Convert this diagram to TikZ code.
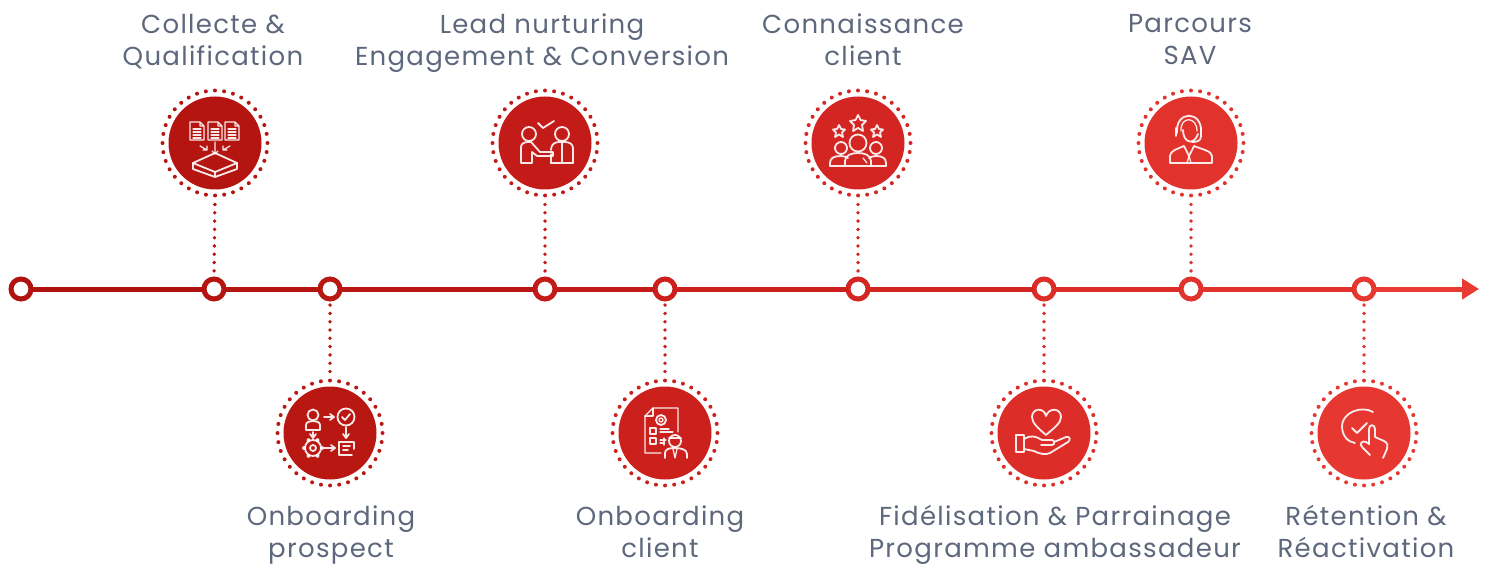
\documentclass[tikz,border=0pt]{standalone}
\usepackage{fontspec}
\setmainfont[LetterSpace=5]{Poppins}
\usetikzlibrary{arrows.meta}
\definecolor{ink}{HTML}{5E687C}
\definecolor{c0}{HTML}{B01210}
\definecolor{c1}{HTML}{B51511}
\definecolor{c2}{HTML}{B91712}
\definecolor{c3}{HTML}{C31B17}
\definecolor{c4}{HTML}{CB201C}
\definecolor{c5}{HTML}{D32521}
\definecolor{c6}{HTML}{DD2D28}
\definecolor{c7}{HTML}{E1322C}
\definecolor{c8}{HTML}{E63830}
\definecolor{c9}{HTML}{E93B32}
\tikzset{
  every picture/.style={x=1pt,y=-1pt},
  label text/.style={text=ink,font=\fontsize{26}{32}\selectfont,align=center,inner sep=0pt,
    execute at begin node={\rule{0pt}{20pt}},execute at end node={\rule[-7pt]{0pt}{7pt}}},
  disc/.style={circle,fill=#1,minimum size=93pt,inner sep=0pt,outer sep=0pt},
  halo/.style={circle,draw=#1,line width=4pt,line cap=round,dash pattern=on 0pt off 9.163pt,minimum size=105pt,inner sep=0pt,outer sep=0pt},
  stem/.style={draw=#1,line width=3.8pt,line cap=round,dash pattern=on 0pt off 8.3pt,shorten <=9pt,shorten >=6pt},
  ring/.style={circle,draw=#1,fill=white,line width=5pt,minimum size=20pt,inner sep=0pt,outer sep=0pt},
  axis/.style={draw=#1,line width=5pt},
  icon/.style={draw=white,line width=1.8pt,line join=round,line cap=round,opacity=.9},
  thin icon/.style={icon,line width=1.3pt},
}
\begin{document}
\begin{tikzpicture}
\useasboundingbox (0,0) rectangle (1489,564);

% axis nodes
\node[ring=c0] (r0) at (21,289) {};
\node[ring=c1] (r1) at (214,289) {};
\node[ring=c2] (r2) at (330,289) {};
\node[ring=c3] (r3) at (545,289) {};
\node[ring=c4] (r4) at (665,289) {};
\node[ring=c5] (r5) at (858,289) {};
\node[ring=c6] (r6) at (1044,289) {};
\node[ring=c7] (r7) at (1191,289) {};
\node[ring=c8] (r8) at (1364,289) {};
\coordinate (end) at (1479,289);

\draw[axis=c0] (r0) -- (r1);
\draw[axis=c1] (r1) -- (r2);
\draw[axis=c2] (r2) -- (r3);
\draw[axis=c3] (r3) -- (r4);
\draw[axis=c4] (r4) -- (r5);
\draw[axis=c5] (r5) -- (r6);
\draw[axis=c6] (r6) -- (r7);
\draw[axis=c7] (r7) -- (r8);
\draw[axis=c9,-{Triangle[length=17pt,width=20pt]}] (r8) -- (end);

% discs
\node[disc=c1] (d1) at (215,143) {};
\node[disc=c2] (d2) at (330,433) {};
\node[disc=c3] (d3) at (545,143) {};
\node[disc=c4] (d4) at (665,433) {};
\node[disc=c5] (d5) at (858,143) {};
\node[disc=c6] (d6) at (1044,433) {};
\node[disc=c7] (d7) at (1191,143) {};
\node[disc=c8] (d8) at (1364,433) {};

\node[halo=c1] (h1) at (d1) {};
\node[halo=c2] (h2) at (d2) {};
\node[halo=c3] (h3) at (d3) {};
\node[halo=c4] (h4) at (d4) {};
\node[halo=c5] (h5) at (d5) {};
\node[halo=c6] (h6) at (d6) {};
\node[halo=c7] (h7) at (d7) {};
\node[halo=c8] (h8) at (d8) {};

\draw[stem=c1] (h1.south) -- (r1.north);
\draw[stem=c2] (h2.north) -- (r2.south);
\draw[stem=c3] (h3.south) -- (r3.north);
\draw[stem=c4] (h4.north) -- (r4.south);
\draw[stem=c5] (h5.south) -- (r5.north);
\draw[stem=c6] (h6.north) -- (r6.south);
\draw[stem=c7] (h7.south) -- (r7.north);
\draw[stem=c8] (h8.north) -- (r8.south);

% labels
\node[label text] (t1) at (213,43) {Collecte \&\hspace{10pt}\\Qualification};
\node[label text] (t2) at (331,535) {Onboarding\\prospect};
\node[label text] (t3) at (542,43) {Lead nurturing\\Engagement \& Conversion};
\node[label text] (t4) at (660,535) {Onboarding\\client};
\node[label text] (t5) at (863,43) {Connaissance\\client};
\node[label text] (t6) at (1055,535) {Fidélisation \& Parrainage\\Programme ambassadeur};
\node[label text] (t7) at (1190,43) {Parcours\\SAV};
\node[label text] (t8) at (1366,535) {Rétention \&\\Réactivation};

% icon 1: three documents into a tray
\begin{scope}[shift={(d1.center)},thin icon]
  \foreach \dx in {-18,0,17}{
    \draw[shift={(\dx,0)}] (-7,-21) -- (3,-21) -- (7,-17) -- (7,-3) -- (-7,-3) -- cycle (3,-21) -- (3,-17) -- (7,-17);
    \draw[shift={(\dx,0)}] (-4,-14) -- (4,-14) (-4,-11) -- (4,-11) (-4,-8) -- (4,-8) (-4,-5) -- (4,-5);
  }
  \draw (0,-1) -- (0,11) (-3,8) -- (0,11) -- (3,8);
  \draw (-15,3) -- (-8,7) (-8,3) -- (-8,7) -- (-12,7);
  \draw (15,3) -- (8,7) (8,3) -- (8,7) -- (12,7);
  \draw[icon] (-22,20) -- (0,10) -- (22,20) -- (0,29) -- cycle;
  \draw[icon] (-22,20) -- (-22,26) -- (0,34) -- (22,26) -- (22,20) (0,29) -- (0,34);
\end{scope}

% icon 2: flow of four items
\begin{scope}[shift={(d2.center)},icon]
  \draw (-17,-18) circle[radius=5.5];
  \draw (-24,-3) -- (-24,-8) .. controls (-24,-11) and (-20,-12) .. (-17,-12) .. controls (-14,-12) and (-10,-11) .. (-10,-8) -- (-10,-3) -- cycle;
  \draw (16,-16) circle[radius=8.5];
  \draw (12,-16) -- (15,-13) -- (20,-19);
  \draw (-17,15) circle[radius=3];
  \draw (-17,15) circle[radius=8];
  \foreach \a in {0,60,...,300} \fill[white] (-17,15) ++(\a:9) circle[radius=2];
  \draw (22,22) -- (9,22) -- (9,9) -- (24,9) -- (24,16);
  \draw (13,13) -- (20,13) (13,17) -- (18,17);
  \draw (-6,-16) -- (3,-16) (0,-19) -- (4,-16) -- (0,-13);
  \draw (-17,-1) -- (-17,4) (-20,1) -- (-17,5) -- (-14,1);
  \draw (16,-6) -- (16,5) (13,1) -- (16,5) -- (19,1);
  \draw (-6,15) -- (4,15) (1,12) -- (5,15) -- (1,18);
\end{scope}

% icon 3: two people and a check
\begin{scope}[shift={(d3.center)},icon]
  \draw (-16,-9) circle[radius=7];
  \draw (17,-9) circle[radius=7];
  \draw (-7,-20) -- (-2,-15) -- (9,-22);
  \draw (-24,20) -- (-24,4) .. controls (-24,1) and (-21,-1) .. (-17,-1) -- (-14,-1) -- (-5,9) -- (8,9) -- (8,13) -- (-8,13) -- (-13,9) -- (-13,20) -- cycle;
  \draw (6,20) -- (6,11) (28,20) -- (28,5) .. controls (28,1) and (24,-1) .. (20,-1) -- (14,-1) .. controls (9,-1) and (6,2) .. (6,7);
  \draw (6,20) -- (28,20) (17,-1) -- (17,20);
\end{scope}

% icon 4: form and person
\begin{scope}[shift={(d4.center)},icon]
  \draw[thin icon] (-4,20) -- (-20,20) -- (-20,-17) -- (-12,-25) -- (13,-25) -- (13,-1);
  \draw[thin icon] (-20,-17) -- (-12,-17) -- (-12,-25);
  \draw[thin icon] (-4,-13) circle[radius=2];
  \draw (-4,-13) circle[radius=5];
  \draw[thin icon] (-15,-5) rectangle (-9,1) (-15,5) rectangle (-9,11);
  \draw[thin icon] (-5,-4) -- (4,-4) (-5,-1) -- (8,-1) (-5,7) -- (1,7) (-5,10) -- (-1,10) (-1,5) -- (-1,12);
  \draw (10,8) circle[radius=6];
  \draw[line width=1.6pt] (4,5) -- (16,5);
  \draw (0,25) -- (0,20) .. controls (0,16) and (5,15) .. (9,15) .. controls (15,15) and (22,16) .. (22,21) -- (22,25);
  \draw[thin icon] (8,16) -- (10,25) (12,16) -- (10,25);
\end{scope}

% icon 5: three people and stars
\begin{scope}[shift={(d5.center)},icon]
  \draw (0,-28) -- (2.5,-23) -- (8,-22) -- (4,-18) -- (5,-12) -- (0,-15) -- (-5,-12) -- (-4,-18) -- (-8,-22) -- (-2.5,-23) -- cycle;
  \draw (-19,-18) -- (-17,-14) -- (-13,-13.5) -- (-16,-10.5) -- (-15,-6) -- (-19,-8.5) -- (-23,-6) -- (-22,-10.5) -- (-25,-13.5) -- (-21,-14) -- cycle;
  \draw (19,-18) -- (21,-14) -- (25,-13.5) -- (22,-10.5) -- (23,-6) -- (19,-8.5) -- (15,-6) -- (16,-10.5) -- (13,-13.5) -- (17,-14) -- cycle;
  \draw (0,0) circle[radius=8.5];
  \draw (-17,5) circle[radius=6];
  \draw (18,5) circle[radius=6];
  \draw (-28,23) -- (-28,20) .. controls (-28,15) and (-24,13) .. (-17,13) .. controls (-14,13) and (-12,14) .. (-10,15);
  \draw (28,23) -- (28,20) .. controls (28,15) and (24,13) .. (18,13) .. controls (15,13) and (13,14) .. (11,15);
  \draw (-13,23) -- (-13,18) .. controls (-13,12) and (-6,10) .. (0,10) .. controls (6,10) and (13,12) .. (13,18) -- (13,23);
  \draw (-28,23) -- (28,23);
  \draw[thin icon] (5,15) -- (9,20);
\end{scope}

% icon 6: hand and heart
\begin{scope}[shift={(d6.center)},icon]
  \draw (2,2) .. controls (-6,-5) and (-12,-10) .. (-12,-16) .. controls (-12,-25) and (0,-26) .. (2,-17) .. controls (5,-26) and (17,-25) .. (17,-16) .. controls (17,-10) and (10,-5) .. (2,2) -- cycle;
  \draw (-28,2) rectangle (-20,19);
  \draw (-20,6) .. controls (-14,2) and (-8,3) .. (-2,7) -- (8,7) .. controls (11,7) and (11,12) .. (8,12) -- (-3,12);
  \draw (10,9) -- (22,4) .. controls (26,3) and (27,7) .. (24,9) -- (6,20) .. controls (2,22) and (-5,21) .. (-10,18) -- (-20,16);
\end{scope}

% icon 7: support agent
\begin{scope}[shift={(d7.center)},icon]
  \draw (-14,-10) .. controls (-16,-33) and (12,-33) .. (10,-10);
  \draw[thin icon] (-10,-12) .. controls (-11,-27) and (6,-27) .. (6,-12);
  \draw (-8,-13) .. controls (-8,0) and (3,3) .. (7,-9);
  \draw (-15,-15) -- (-15,-7) (10,-15) -- (10,-7);
  \draw (10,-7) .. controls (10,-2) and (6,-1) .. (1,-1);
  \draw (-21,20) -- (-21,13) .. controls (-21,8) and (-14,6) .. (-7,3) -- (-2,13) -- (3,3) .. controls (10,6) and (21,8) .. (21,13) -- (21,20) -- cycle;
  \draw[thin icon] (-2,13) -- (-4,20) (-2,13) -- (0,20);
\end{scope}

% icon 8: check and tap
\begin{scope}[shift={(d8.center)},icon]
  \draw (9,-21) .. controls (-3,-28) and (-22,-20) .. (-22,-7) .. controls (-22,3) and (-16,9) .. (-9,10);
  \draw (-12,-5) -- (-7,0) -- (3,-10);
  \draw (5,11) -- (5,-4) .. controls (5,-9) and (11,-9) .. (11,-4) -- (11,4) -- (20,8) .. controls (24,10) and (24,13) .. (23,16) -- (19,25);
  \draw (5,11) -- (2,9) .. controls (-2,7) and (-5,11) .. (-2,14) -- (6,22);
\end{scope}
\end{tikzpicture}
\end{document}
